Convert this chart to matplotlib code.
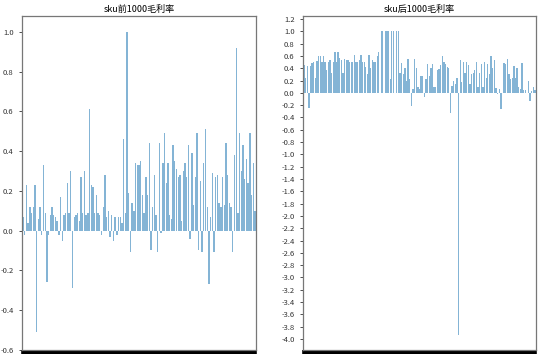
import matplotlib
matplotlib.use("Agg")
import matplotlib.pyplot as plt
import numpy as np

plt.rcParams["font.family"] = ["Noto Sans CJK SC", "DejaVu Sans"]
plt.rcParams["axes.unicode_minus"] = False

# gross margin of top-1000 sku (thinned out)
top_margin = [
    0.07, -0.02, 0.23, 0.04, 0.12, 0.09, 0.12, 0.23, -0.51, 0.06,
    0.12, -0.02, 0.33, 0.09, -0.26, -0.02, 0.08, 0.12, 0.08, 0.07,
    0.05, -0.02, 0.17, -0.05, 0.08, 0.09, 0.24, 0.09, 0.30, -0.29,
    0.07, 0.08, 0.09, 0.05, 0.27, 0.09, 0.30, 0.08, 0.09, 0.61,
    0.23, 0.22, 0.09, 0.18, 0.09, 0.08, -0.02, 0.12, 0.28, 0.07,
    0.10, -0.03, 0.08, -0.05, 0.07, -0.02, 0.07, 0.07, 0.04, 0.46,
    0.09, 1.00, 0.19, -0.11, 0.14, 0.10, 0.34, 0.33, 0.33, 0.35,
    0.18, 0.09, 0.27, 0.18, 0.44, -0.10, 0.12, 0.28, 0.08, -0.11,
    0.44, -0.01, 0.34, 0.49, 0.24, 0.34, 0.08, 0.06, 0.43, 0.35,
    0.31, 0.27, 0.28, 0.05, 0.30, 0.34, 0.27, 0.43, -0.04, 0.39,
    0.13, 0.27, 0.49, -0.10, 0.25, -0.11, 0.34, 0.51, 0.12, -0.27,
    0.07, 0.29, -0.11, 0.27, 0.28, 0.14, 0.12, 0.27, 0.13, 0.44,
    0.28, 0.14, 0.12, -0.11, 0.38, 0.92, 0.09, 0.49, 0.30, 0.43,
    0.26, 0.36, 0.24, 0.49, 0.18, 0.34, 0.10,
]

# gross margin of bottom-1000 sku
bottom_margin = [
    0.45, 0.25, 0.44, -0.24, 0.44, 0.49, 0.50, 0.25, 0.52, 0.60,
    0.60, 0.50, 0.60, 0.50, 0.37, 0.50, 0.53, 0.33, 0.50, 0.67,
    0.50, 0.67, 0.57, 0.53, 0.33, 0.55, 0.53, 0.53, 0.50, 0.50,
    0.50, 0.61, 0.50, 0.50, 0.53, 0.61, 0.50, 0.50, 0.42, 0.31,
    0.61, 0.40, 0.53, 0.50, 0.50, 0.60, 0.67, 0.00, 1.00, 0.00,
    1.00, 1.00, 1.00, 0.22, 1.00, 1.00, 0.00, 1.00, 1.00, 0.32,
    0.49, 0.30, 0.40, 0.20, 0.55, 0.22, -0.21, 0.07, 0.55, 0.40,
    0.09, 0.07, 0.28, 0.28, -0.06, 0.22, 0.47, 0.28, 0.40, 0.47,
    0.10, 0.09, 0.37, 0.39, 0.45, 0.60, 0.50, 0.47, 0.42, 0.40,
    -0.32, 0.11, 0.20, 0.14, 0.25, -3.93, 0.53, 0.17, 0.50, 0.33,
    0.50, 0.45, 0.15, 0.31, 0.33, 0.37, 0.50, 0.10, 0.33, 0.47,
    0.09, 0.50, 0.25, 0.47, 0.30, 0.60, 0.40, 0.53, 0.08, -0.01,
    0.07, -0.26, 0.00, 0.48, 0.47, 0.55, 0.30, 0.22, 0.25, 0.43,
    0.25, 0.40, 0.10, 0.06, 0.49, 0.04, 0.05, 0.00, 0.20, -0.14,
    0.03, 0.09, 0.05,
]

W, H = 554, 354
fig = plt.figure(figsize=(W / 100, H / 100), dpi=100)


def panel(rect, values, title, ylim, step):
    ax = fig.add_axes([rect[0] / W, 1 - rect[3] / H,
                       (rect[2] - rect[0]) / W, (rect[3] - rect[1]) / H])
    x = np.arange(len(values))
    ax.bar(x, values, width=0.8, color="#1f77b4", alpha=0.55, lw=0)
    ax.set_xlim(-0.6, len(values) - 0.4)
    ax.set_ylim(*ylim)
    ax.set_yticks(np.round(np.arange(np.ceil(ylim[0] / step - 1e-6) * step,
                                     ylim[1], step), 1))
    ax.yaxis.set_major_formatter(plt.FormatStrFormatter("%.1f"))
    # one tick per sku -> they merge into a black band under the axis
    ax.set_xticks(x)
    ax.set_xticklabels([])
    ax.tick_params(axis="x", length=5, width=2.6, color="black")
    ax.tick_params(axis="y", labelsize=5.5, length=2.5, width=0.6,
                   colors="#333333")
    for s in ax.spines.values():
        s.set_color("#777777")
        s.set_linewidth(0.9)
    ax.set_title(title, fontsize=6.5, pad=3)
    return ax


panel((22, 16, 256, 350), top_margin, "sku前1000毛利率", (-0.601, 1.08), 0.2)
panel((303, 16, 536, 350), bottom_margin, "sku后1000毛利率", (-4.18, 1.25), 0.2)

fig.savefig("out.png", dpi=100)
